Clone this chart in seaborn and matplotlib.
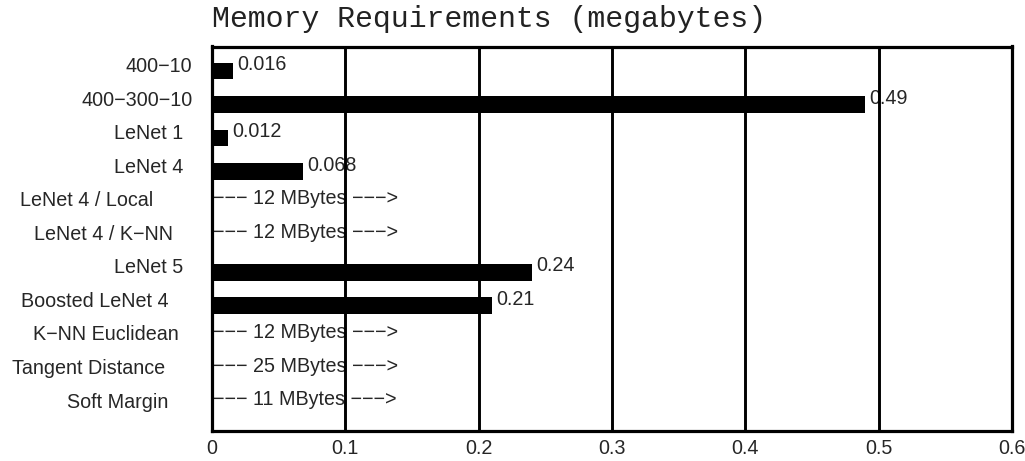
import numpy as np
import pandas as pd
import seaborn as sns
import matplotlib.pyplot as plt
from matplotlib.transforms import ScaledTranslation

# Data
models = ["400\u221210", "400\u2212300\u221210", "LeNet 1", "LeNet 4",
          "LeNet 4 / Local", "LeNet 4 / K\u2212NN", "LeNet 5",
          "Boosted LeNet 4", "K\u2212NN Euclidean", "Tangent Distance",
          "Soft Margin"]
small_models = ["400\u221210", "400\u2212300\u221210", "LeNet 1", "LeNet 4",
                "LeNet 5", "Boosted LeNet 4"]
small_memory = [0.016, 0.49, 0.012, 0.068, 0.24, 0.21]
large_models = ["LeNet 4 / Local", "LeNet 4 / K\u2212NN", "K\u2212NN Euclidean",
                "Tangent Distance", "Soft Margin"]
large_memory = [12, 12, 12, 25, 11]
x_ticks = [0, 0.1, 0.2, 0.3, 0.4, 0.5, 0.6]

sns.set_style("white")
plt.rcParams['font.family'] = ['Liberation Sans', 'DejaVu Sans']
fs = 14.2

df = pd.DataFrame({'model': small_models, 'memory': small_memory})

fig = plt.figure(figsize=(10.25, 4.61), dpi=100)
ax = fig.add_axes([212 / 1025, 1 - 431 / 461, 800 / 1025, 384.5 / 461])

sns.barplot(data=df, y='model', x='memory', order=models, color='black',
            width=0.5, linewidth=0, errorbar=None, ax=ax, zorder=3)

ax.set_xlim(0, 0.6)
ax.set_ylim(len(models) - 1 + 0.73, -0.73)
ax.set_xticks(x_ticks)
ax.set_xticklabels([f"{t:g}" for t in x_ticks])
for t in x_ticks[1:-1]:
    ax.axvline(t, color='black', lw=2.1, zorder=2)

for s in ax.spines.values():
    s.set_color('black')
    s.set_linewidth(2.3)

ax.tick_params(axis='both', length=0, labelsize=fs)
ax.tick_params(axis='x', pad=6)
ax.tick_params(axis='y', pad=14)
ax.set_xlabel('')
ax.set_ylabel('')

# labels in the original are not aligned evenly; nudge them (pixels)
nudge = [0, 0, -9, -9, -39, -20, -9, -24, -14, -27, -24]
for lab, dx in zip(ax.get_yticklabels(), nudge):
    lab.set_transform(lab.get_transform() +
                      ScaledTranslation(dx / 100, 6.5 / 100, fig.dpi_scale_trans))

# value labels
for name, v in zip(small_models, small_memory):
    i = models.index(name)
    ax.annotate(str(v), (v, i), xytext=(3, 4.7), textcoords='offset points',
                va='center', ha='left', fontsize=fs, zorder=1)

for name, mb in zip(large_models, large_memory):
    i = models.index(name)
    ax.annotate(f"\u2212\u2212\u2212 {mb} MBytes \u2212\u2212\u2212>", (0, i),
                xytext=(0.5, 4.7), textcoords='offset points',
                va='center', ha='left', fontsize=fs, zorder=1)

ax.set_title("Memory Requirements (megabytes)", loc='left', pad=14,
             fontsize=21.5, color='#222222',
             family=['Liberation Mono', 'DejaVu Sans Mono'])

fig.savefig("out.png", dpi=100)
